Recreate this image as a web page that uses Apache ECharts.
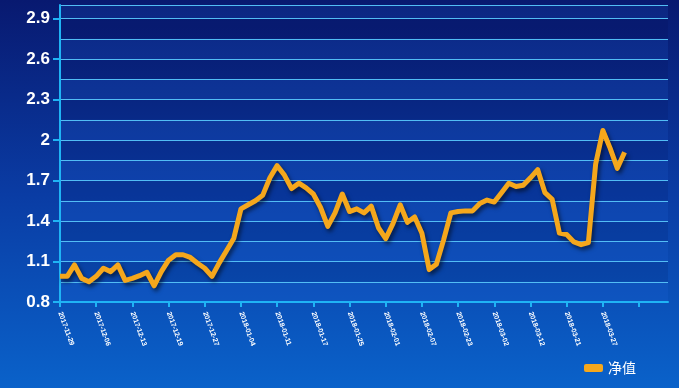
<!DOCTYPE html>
<html>
<head>
<meta charset="utf-8">
<script src="https://cdn.jsdelivr.net/npm/echarts@6/dist/echarts.min.js"></script>
<style>
html,body{margin:0;padding:0;}
#chart{width:679px;height:388px;}
</style>
</head>
<body>
<div id="chart"></div>
<script>
var dates = [
  '2017-11-29','2017-11-30','2017-12-01','2017-12-04','2017-12-05',
  '2017-12-06','2017-12-07','2017-12-08','2017-12-11','2017-12-12',
  '2017-12-13','2017-12-14','2017-12-15','2017-12-16','2017-12-18',
  '2017-12-19','2017-12-20','2017-12-21','2017-12-22','2017-12-26',
  '2017-12-27','2017-12-28','2017-12-29','2018-01-02','2018-01-03',
  '2018-01-04','2018-01-05','2018-01-08','2018-01-09','2018-01-10',
  '2018-01-11','2018-01-12','2018-01-13','2018-01-15','2018-01-16',
  '2018-01-17','2018-01-18','2018-01-19','2018-01-22','2018-01-24',
  '2018-01-25','2018-01-26','2018-01-29','2018-01-30','2018-01-31',
  '2018-02-01','2018-02-02','2018-02-03','2018-02-05','2018-02-06',
  '2018-02-07','2018-02-08','2018-02-09','2018-02-12','2018-02-22',
  '2018-02-23','2018-02-26','2018-02-27','2018-02-28','2018-03-01',
  '2018-03-02','2018-03-05','2018-03-06','2018-03-08','2018-03-09',
  '2018-03-12','2018-03-13','2018-03-15','2018-03-16','2018-03-19',
  '2018-03-21','2018-03-22','2018-03-23','2018-03-24','2018-03-26',
  '2018-03-27','2018-03-28','2018-03-29','2018-03-30'
];
var padCategories = ['', '', '', '', '', ''];
var netValues = [
  0.99, 0.99, 1.075, 0.975, 0.95,
  0.99, 1.05, 1.025, 1.075, 0.96,
  0.975, 0.995, 1.02, 0.92, 1.025,
  1.11, 1.15, 1.15, 1.13, 1.087,
  1.05, 0.99, 1.09, 1.18, 1.27,
  1.49, 1.52, 1.55, 1.59, 1.72,
  1.81, 1.74, 1.64, 1.68, 1.645,
  1.60, 1.50, 1.36, 1.46, 1.60,
  1.47, 1.49, 1.46, 1.51, 1.35,
  1.27, 1.38, 1.52, 1.39, 1.43,
  1.31, 1.04, 1.08, 1.26, 1.46,
  1.47, 1.475, 1.475, 1.53, 1.555,
  1.54, 1.61, 1.68, 1.655, 1.665,
  1.72, 1.78, 1.61, 1.56, 1.31,
  1.30, 1.245, 1.225, 1.24, 1.82,
  2.07, 1.94, 1.79, 1.91
];
var yTickValues = [0.8, 1.1, 1.4, 1.7, 2.0, 2.3, 2.6, 2.9];
var seriesName = '净值';
var yMin = 0.8, yMax = 3.0, bandStep = 0.15;

var categories = dates.concat(padCategories);
var chart = echarts.init(document.getElementById('chart'));
chart.setOption({
  animation: false,
  backgroundColor: {
    type: 'linear', x: 0, y: 0, x2: 0, y2: 1,
    colorStops: [
      {offset: 0, color: '#081970'},
      {offset: 0.5, color: '#0a3ca4'},
      {offset: 1, color: '#0a62ca'}
    ]
  },
  grid: {left: 60, right: 11, top: 5, bottom: 86},
  legend: {
    data: [seriesName],
    right: 38, bottom: 8,
    icon: 'roundRect',
    itemWidth: 19, itemHeight: 8,
    textStyle: {color: '#ffffff', fontSize: 14, fontFamily: 'Noto Sans CJK SC'}
  },
  xAxis: {
    type: 'category',
    data: categories,
    boundaryGap: false,
    axisLine: {lineStyle: {color: '#1fb4f5', width: 2}},
    axisTick: {length: 5, lineStyle: {color: '#1fb4f5', width: 2}},
    axisLabel: {
      interval: 4, rotate: -70, color: '#ffffff',
      fontSize: 7, fontWeight: 'bold', fontFamily: 'Liberation Sans', margin: 10
    },
    splitLine: {show: false}
  },
  yAxis: [{
    type: 'value', min: yMin, max: yMax, interval: bandStep,
    axisLine: {show: false}, axisTick: {show: false}, axisLabel: {show: false},
    splitLine: {show: true, lineStyle: {color: '#52bdf5', width: 1}},
    splitArea: {show: true, areaStyle: {color: ['rgba(40,110,235,0.14)', 'rgba(0,0,60,0.10)']}}
  }, {
    type: 'value', min: yMin, max: yMax, position: 'left',
    axisLine: {show: true, lineStyle: {color: '#1fb4f5', width: 2}},
    axisTick: {show: true, length: 7, customValues: yTickValues, lineStyle: {color: '#1fb4f5', width: 2}},
    axisLabel: {
      color: '#ffffff', fontSize: 17, fontWeight: 'bold', fontFamily: 'Liberation Sans',
      margin: 10, customValues: yTickValues
    },
    splitLine: {show: false},
    splitArea: {show: false}
  }],
  series: [{
    name: seriesName,
    type: 'line',
    yAxisIndex: 1,
    data: netValues,
    showSymbol: false,
    symbol: 'none',
    lineStyle: {
      color: '#f5a71c', width: 5, join: 'round',
      shadowColor: 'rgba(0,0,0,0.55)', shadowBlur: 4, shadowOffsetX: 2, shadowOffsetY: 3
    },
    itemStyle: {color: '#f5a71c'}
  }]
});
</script>
</body>
</html>
